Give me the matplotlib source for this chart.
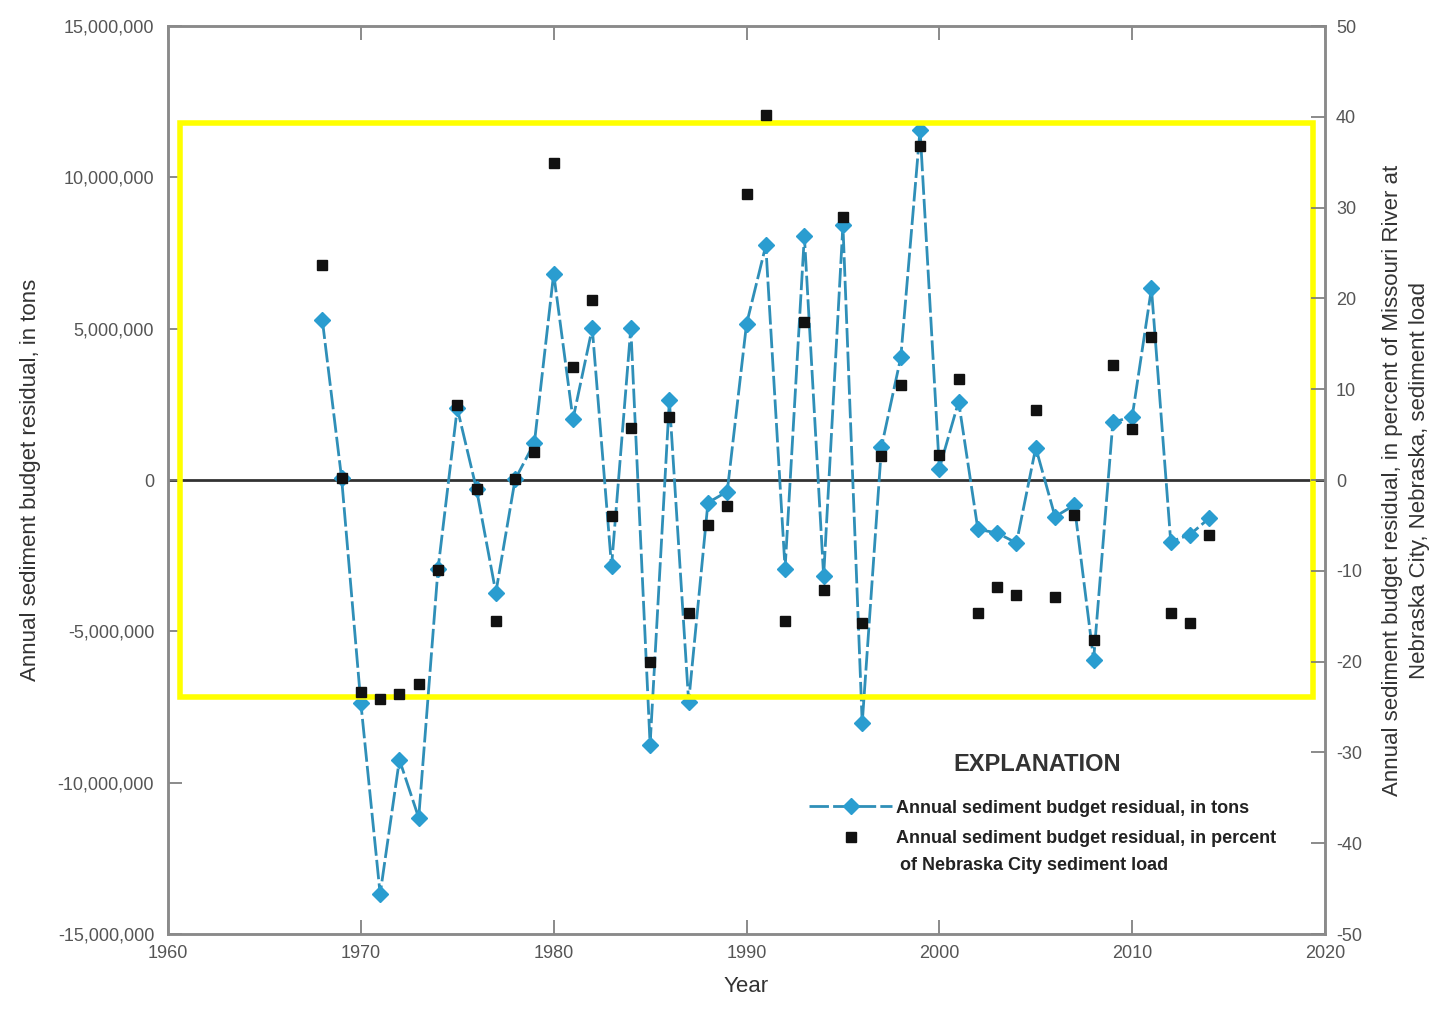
import matplotlib
matplotlib.use("Agg")
import matplotlib.pyplot as plt
from matplotlib.lines import Line2D
from matplotlib.patches import Rectangle
from matplotlib.ticker import FuncFormatter

plt.rcParams["font.family"] = ["Liberation Sans", "DejaVu Sans"]
plt.rcParams["axes.unicode_minus"] = False

years = list(range(1968, 2015))

# residual in tons
residual_tons = [
    5.30e6, 0.07e6, -7.37e6, -13.68e6, -9.24e6, -11.16e6, -2.95e6, 2.37e6,
    -0.31e6, -3.72e6, 0.02e6, 1.23e6, 6.82e6, 2.01e6, 5.02e6, -2.85e6,
    5.02e6, -8.74e6, 2.63e6, -7.33e6, -0.75e6, -0.38e6, 5.15e6, 7.75e6,
    -2.93e6, 8.07e6, -3.18e6, 8.42e6, -8.04e6, 1.10e6, 4.05e6, 11.58e6,
    0.38e6, 2.59e6, -1.63e6, -1.75e6, -2.08e6, 1.07e6, -1.21e6, -0.83e6,
    -5.93e6, 1.91e6, 2.09e6, 6.33e6, -2.04e6, -1.80e6, -1.26e6,
]

# residual in percent of Nebraska City load
residual_pct = [
    23.7, 0.2, -23.3, -24.1, -23.6, -22.5, -9.9, 8.3,
    -1.0, -15.5, 0.1, 3.1, 34.9, 12.4, 19.8, -4.0,
    5.7, -20.0, 6.9, -14.6, -5.0, -2.9, 31.5, 40.2,
    -15.5, 17.4, -12.1, 29.0, -15.7, 2.7, 10.5, 36.8,
    2.8, 11.1, -14.6, -11.8, -12.7, 7.7, -12.9, -3.9,
    -17.6, 12.7, 5.6, 15.8, -14.6, -15.8, -6.1,
]

# highlight box (year range, tons range)
box_x = (1960.62, 2019.38)
box_y = (-7.17e6, 11.8e6)

line_col = "#2f8fb8"
marker_col = "#2a9dd0"
tick_col = "#555555"

fig = plt.figure(figsize=(14.41, 10.17), dpi=100)
ax = fig.add_axes([0.1166, 0.0816, 0.8029, 0.8928])
ax2 = ax.twinx()

ax.set_xlim(1960, 2020)
ax.set_ylim(-15e6, 15e6)
ax2.set_ylim(-50, 50)

ax.axhline(0, color="#333333", lw=2.0, zorder=1)

ax.plot(years, residual_tons, color=line_col, lw=2.0, dashes=(7, 1.5),
        marker="D", markersize=8.5, markerfacecolor=marker_col,
        markeredgecolor=marker_col, zorder=3)
ax2.plot(years, residual_pct, ls="none", marker="s", markersize=7,
         color="#111111", zorder=4)

ax.add_patch(Rectangle((box_x[0], box_y[0]), box_x[1] - box_x[0], box_y[1] - box_y[0],
                       fill=False, edgecolor="#ffff00", lw=4, zorder=5))

ax.set_xticks(range(1960, 2021, 10))
ax.set_yticks([-15e6, -10e6, -5e6, 0, 5e6, 10e6, 15e6])
ax2.set_yticks(range(-50, 51, 10))
ax.yaxis.set_major_formatter(FuncFormatter(lambda v, p: f"{int(v):,}"))

for a in (ax, ax2):
    for s in a.spines.values():
        s.set_color("#8a8a8a")
        s.set_linewidth(1.8)
ax.tick_params(axis="both", direction="in", length=10, width=1.2, color="#777777",
               labelsize=13, labelcolor=tick_col, top=True)
ax.tick_params(axis="x", pad=8)
ax.tick_params(axis="y", pad=10)
ax2.tick_params(axis="y", direction="in", length=10, width=1.2, color="#777777",
                labelsize=13, labelcolor=tick_col, pad=8)

ax.set_xlabel("Year", fontsize=16, color="#333333", labelpad=10)
ax.set_ylabel("Annual sediment budget residual, in tons", fontsize=16,
              color="#333333", labelpad=12)
ax2.set_ylabel("Annual sediment budget residual, in percent of Missouri River at\n"
               "Nebraska City, Nebraska, sediment load", fontsize=16,
               color="#333333", labelpad=14, linespacing=1.4)

# explanation block
ax.text(0.751, 0.187, "EXPLANATION", transform=ax.transAxes, ha="center",
        va="center", fontsize=17, fontweight="bold", color="#333333")

handles = [
    Line2D([], [], color=line_col, lw=2.0, dashes=(7, 1.5), marker="D",
           markersize=8.5, markerfacecolor=marker_col, markeredgecolor=marker_col),
    Line2D([], [], ls="none", marker="s", markersize=7, color="#111111"),
]
labels = [
    "Annual sediment budget residual, in tons",
    "Annual sediment budget residual, in percent",
]
leg = ax.legend(handles, labels, loc="upper left",
                bbox_to_anchor=(0.548, 0.156), frameon=False, handlelength=4.6,
                handletextpad=0.2, labelspacing=0.75, borderaxespad=0,
                prop={"weight": "bold", "size": 13})
for t in leg.get_texts():
    t.set_color("#222222")
# continuation line of the second entry
ax.text(0.6327, 0.076, "of Nebraska City sediment load", transform=ax.transAxes,
        ha="left", va="center", fontsize=13, fontweight="bold", color="#222222")

fig.savefig("out.png", dpi=100)
